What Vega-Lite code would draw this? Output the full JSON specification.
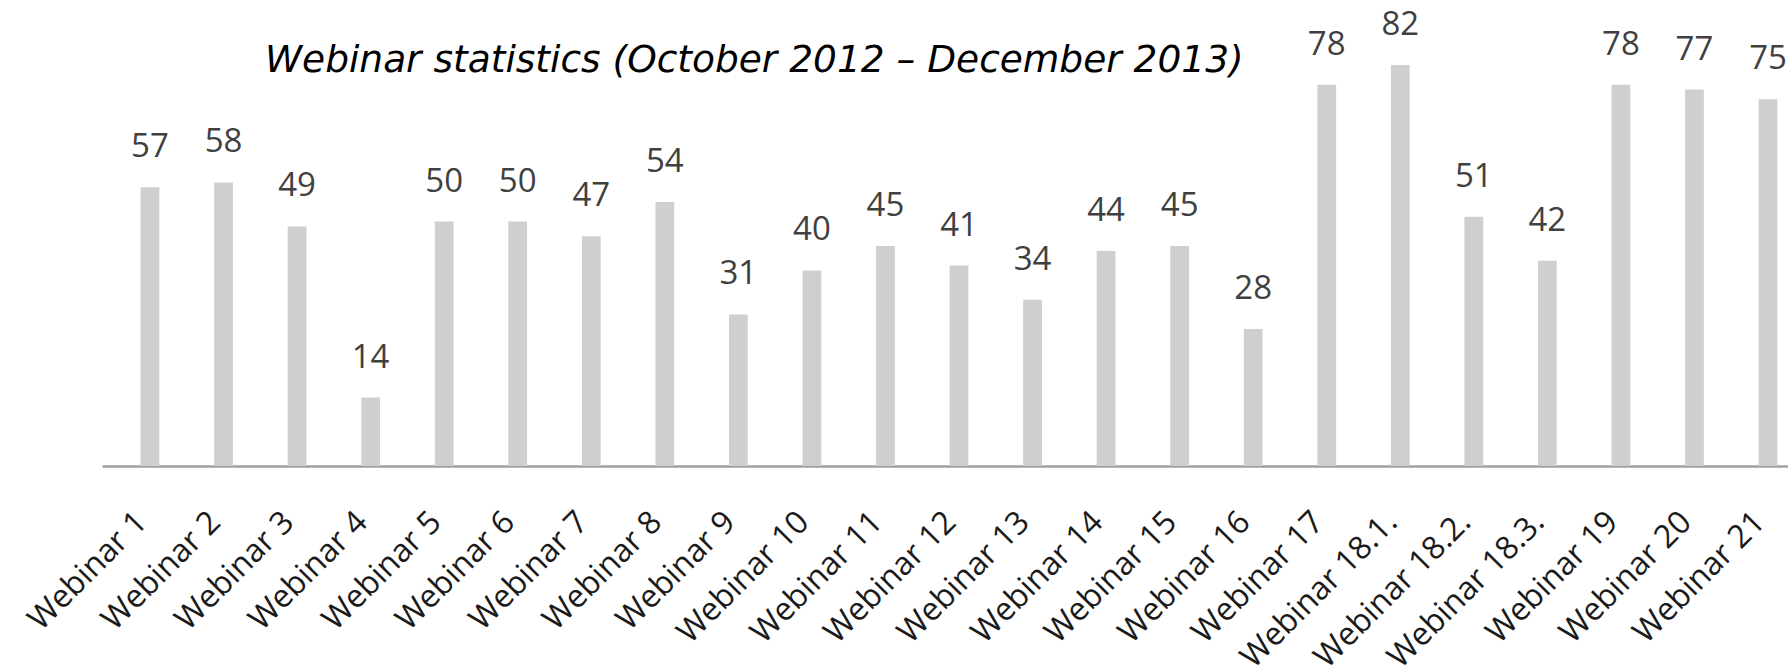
{
  "$schema": "https://vega.github.io/schema/vega-lite/v6.json",
  "autosize": "none",
  "width": 1686,
  "height": 440,
  "padding": {"left": 102, "top": 26, "right": 0, "bottom": 206},
  "background": "white",
  "title": {
    "text": "Webinar statistics (October 2012 – December 2013)",
    "anchor": "start",
    "frame": "group",
    "dx": 163,
    "dy": 100,
    "offset": 0,
    "baseline": "alphabetic",
    "font": "DejaVu Sans",
    "fontStyle": "italic",
    "fontWeight": "normal",
    "fontSize": 37.5,
    "color": "#000000"
  },
  "data": {
    "values": [
      {"webinar": "Webinar 1", "participants": 57},
      {"webinar": "Webinar 2", "participants": 58},
      {"webinar": "Webinar 3", "participants": 49},
      {"webinar": "Webinar 4", "participants": 14},
      {"webinar": "Webinar 5", "participants": 50},
      {"webinar": "Webinar 6", "participants": 50},
      {"webinar": "Webinar 7", "participants": 47},
      {"webinar": "Webinar 8", "participants": 54},
      {"webinar": "Webinar 9", "participants": 31},
      {"webinar": "Webinar 10", "participants": 40},
      {"webinar": "Webinar 11", "participants": 45},
      {"webinar": "Webinar 12", "participants": 41},
      {"webinar": "Webinar 13", "participants": 34},
      {"webinar": "Webinar 14", "participants": 44},
      {"webinar": "Webinar 15", "participants": 45},
      {"webinar": "Webinar 16", "participants": 28},
      {"webinar": "Webinar 17", "participants": 78},
      {"webinar": "Webinar 18.1.", "participants": 82},
      {"webinar": "Webinar 18.2.", "participants": 51},
      {"webinar": "Webinar 18.3.", "participants": 42},
      {"webinar": "Webinar 19", "participants": 78},
      {"webinar": "Webinar 20", "participants": 77},
      {"webinar": "Webinar 21", "participants": 75}
    ]
  },
  "encoding": {
    "x": {
      "field": "webinar",
      "type": "nominal",
      "sort": null,
      "scale": {"range": [0, 1714], "paddingInner": 0.745, "paddingOuter": 0.525},
      "axis": {
        "title": null,
        "labelAngle": -45,
        "labelPadding": 40,
        "labelOffset": -19,
        "labelFont": "Open Sans",
        "labelFontSize": 32,
        "labelColor": "#1a1a1a",
        "labelOverlap": false,
        "labelLimit": 0,
        "ticks": false,
        "grid": false,
        "domainColor": "#a0a0a0",
        "domainWidth": 2.5
      }
    },
    "y": {
      "field": "participants",
      "type": "quantitative",
      "scale": {"domain": [0, 90]},
      "axis": null
    }
  },
  "layer": [
    {"mark": {"type": "bar", "color": "#cfcfcf"}},
    {
      "mark": {
        "type": "text",
        "baseline": "alphabetic",
        "dy": -30,
        "font": "Open Sans",
        "fontSize": 33,
        "color": "#404040"
      },
      "encoding": {"text": {"field": "participants", "type": "quantitative"}}
    }
  ],
  "config": {"view": {"stroke": null}}
}
